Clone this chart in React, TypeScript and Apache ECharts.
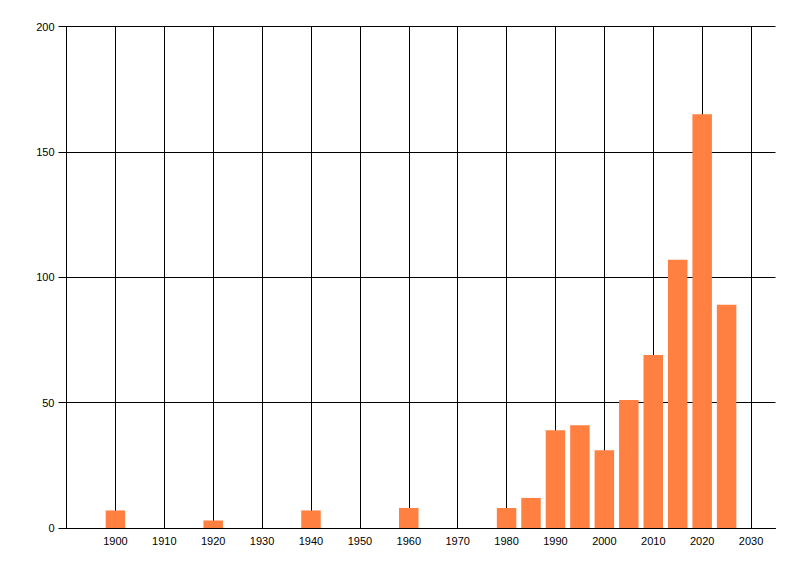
import React, { useEffect, useRef } from "react";
import * as echarts from "echarts";

const years = [1900, 1920, 1940, 1960, 1980, 1985, 1990, 1995, 2000, 2005, 2010, 2015, 2020, 2025];
const counts = [7, 3, 7, 8, 8, 12, 39, 41, 31, 51, 69, 107, 165, 89];

export default function App() {
  const ref = useRef<HTMLDivElement>(null);
  useEffect(() => {
    document.body.style.margin = "0";
    const chart = echarts.init(ref.current!, null, { renderer: "svg" });
    const font = { fontFamily: "Liberation Sans", fontSize: 11, color: "#000" };
    chart.setOption({
      animation: false,
      backgroundColor: "#fff",
      grid: { left: 66.5, top: 26.5, right: 24.5, bottom: 48, containLabel: false },
      xAxis: {
        type: "value",
        min: 1890,
        max: 2035,
        interval: 10,
        axisLine: { show: true, lineStyle: { color: "#000", width: 1 } },
        axisTick: { show: false },
        axisLabel: {
          ...font,
          margin: 7,
          formatter: (v: number) => (v % 10 === 0 && v > 1890 ? String(v) : ""),
        },
        splitLine: { show: true, showMinLine: true, showMaxLine: false, lineStyle: { color: "#000", width: 1 } },
      },
      yAxis: {
        type: "value",
        min: 0,
        max: 200,
        interval: 50,
        axisLine: { show: true, lineStyle: { color: "#000", width: 1 } },
        axisTick: { show: true, length: 8, lineStyle: { color: "#000" } },
        axisLabel: { ...font, margin: 12 },
        splitLine: { show: true, lineStyle: { color: "#000", width: 1 } },
      },
      series: [
        {
          type: "bar",
          data: years.map((y, i) => [y, counts[i]]),
          barWidth: 19.5,
          itemStyle: { color: "#FF8040" },
          z: 3,
        },
      ],
    });
    return () => chart.dispose();
  }, []);
  return <div ref={ref} style={{ position: "absolute", left: 0, top: 0, width: 800, height: 576 }} />;
}
